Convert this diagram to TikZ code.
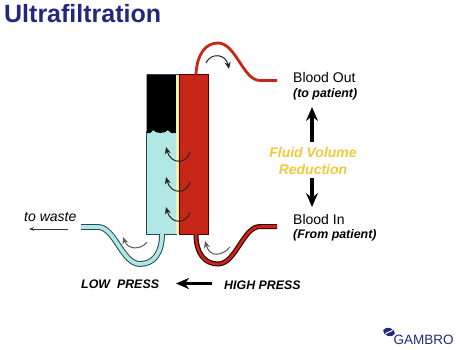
\documentclass[tikz,border=0pt]{standalone}
\usepackage{fontspec}
\setmainfont{Liberation Sans}
\usetikzlibrary{arrows.meta}
\definecolor{navy}{RGB}{35,40,125}
\definecolor{bloodred}{RGB}{200,38,22}
\definecolor{fluidcyan}{RGB}{178,232,228}
\definecolor{tubedark}{RGB}{40,70,90}
\definecolor{gold}{RGB}{240,200,60}
\definecolor{pale}{RGB}{250,240,170}
\tikzset{
  title/.style={font=\fontsize{25}{28}\selectfont\bfseries,text=navy,inner sep=0pt,anchor=west},
  plainlabel/.style={font=\fontsize{14}{16}\selectfont,inner sep=0pt,anchor=west},
  noteslabel/.style={font=\fontsize{12.4}{14}\selectfont\bfseries\itshape,inner sep=0pt,anchor=west},
  fluidlabel/.style={font=\fontsize{14}{16}\selectfont\bfseries\itshape,text=gold,inner sep=0pt},
  presslabel/.style={font=\fontsize{12.4}{14}\selectfont\bfseries\itshape,inner sep=0pt,anchor=west},
  flowarrow/.style={draw=black!85,line width=1pt,-{Stealth[length=7pt,width=6pt]}},
  bigarrow/.style={draw=black,line width=3.3pt,-{Stealth[length=14pt,width=12pt,inset=5pt]}},
  thinarrow/.style={draw=black!80,line width=0.6pt,-{Stealth[length=5pt,width=3.5pt]}},
}
\begin{document}
\begin{tikzpicture}[x=1pt,y=-1pt]
\useasboundingbox (0,0) rectangle (460,349);

\node[title] (heading) at (4,14) {Ultrafiltration};

% filter body: fluid side, membrane, blood side
\fill[fluidcyan] (146.5,128) rectangle (176,234);
\fill[black] (146.5,74) -- (176,74) -- (176,133) .. controls (173,134) and (170,133) .. (168,130)
  .. controls (165,134) and (156,134) .. (153,130) .. controls (151,133) and (149,134) .. (146.5,133) -- cycle;
\draw[tubedark,line width=0.7pt] (146.5,131) -- (146.5,234) -- (176,234) -- (176,131);
\fill[pale] (176,74) rectangle (179,234);
\fill[bloodred] (179,74) rectangle (208,234);
\draw[black!70!red,line width=0.7pt] (179,74) rectangle (208,234);
\draw[tubedark,line width=0.6pt] (146.5,74) -- (179,74);

% tube end points
\coordinate (outTop) at (196,74);
\coordinate (outEnd) at (277,80.5);
\coordinate (inTop) at (196,234);
\coordinate (inEnd) at (277,226.5);
\coordinate (wasteTop) at (162,234);
\coordinate (wasteEnd) at (81,227);

% blood return line
\draw[bloodred,line width=2.8pt] (outTop) .. controls (197,55) and (205,43) .. (218,43)
  .. controls (236,43) and (243,80.5) .. (260,80.5) -- (outEnd);

% blood supply line: dark casing with red core
\draw[black!75!red!90!black,line width=5pt] (inTop) .. controls (196,254) and (205,264) .. (218,264)
  .. controls (236,264) and (243,226.5) .. (260,226.5) -- (inEnd);
\draw[bloodred,line width=2.6pt] (inTop) .. controls (196,254) and (205,264) .. (218,264)
  .. controls (236,264) and (243,226.5) .. (260,226.5) -- (inEnd);

% drain line to waste
\draw[tubedark,line width=5.8pt] (wasteTop) .. controls (162,254) and (153,264) .. (140,264)
  .. controls (122,264) and (115,227) .. (98,227) -- (wasteEnd);
\draw[fluidcyan,line width=3.8pt] (wasteTop) .. controls (162,254) and (153,264) .. (140,264)
  .. controls (122,264) and (115,227) .. (98,227) -- (wasteEnd);

% flow direction arrows
\coordinate (a1s) at (206,63);
\coordinate (a1e) at (229,69);
\draw[flowarrow] (a1s) .. controls (211,52) and (226,54) .. (a1e);
\coordinate (a2s) at (230,247);
\coordinate (a2e) at (205,241);
\draw[flowarrow,black!65] (a2s) .. controls (222,256) and (210,258) .. (a2e);
\coordinate (a3s) at (147,242);
\coordinate (a3e) at (123,237);
\draw[flowarrow,black!65] (a3s) .. controls (141,250) and (128,250) .. (a3e);
\foreach \y [count=\i] in {147,177,207}{
  \coordinate (m\i s) at (190,\y+5);
  \coordinate (m\i e) at (166,\y);
  \draw[flowarrow] (m\i s) .. controls (187,\y+17) and (171,\y+18) .. (m\i e);
}

% labels on the right
\node[plainlabel] (bloodout) at (293,77) {Blood Out};
\node[noteslabel] (topatient) at (293,94) {(to patient)};
\node[fluidlabel] (fluid) at (313,152) {Fluid Volume};
\node[fluidlabel] (reduction) at (313,169) {Reduction};
\node[plainlabel] (bloodin) at (293,219) {Blood In};
\node[noteslabel] (frompatient) at (293,235) {(From patient)};
\coordinate (upstart) at (312,142);
\coordinate (uptip) at (312,107);
\coordinate (downstart) at (312,178);
\coordinate (downtip) at (312,207);
\draw[bigarrow] (upstart) -- (uptip);
\draw[bigarrow] (downstart) -- (downtip);

% waste label
\node[font=\fontsize{14}{16}\selectfont\itshape,inner sep=0pt,anchor=west] (towaste) at (24,217) {to waste};
\coordinate (wa) at (68,229);
\coordinate (wb) at (29,229);
\draw[thinarrow] (wa) -- (wb);

% pressure gradient
\node[presslabel] (low) at (81,284) {LOW\ \ PRESS};
\node[presslabel] (high) at (224,285) {HIGH PRESS};
\coordinate (pstart) at (212,283.5);
\coordinate (ptip) at (176,283.5);
\draw[draw=black,line width=2.8pt,-{Stealth[length=13pt,width=11pt,inset=4pt]}] (pstart) -- (ptip);

% company mark: two interlocking swooshes
\fill[navy,rotate around={-15:(389,332)}] (389,332) ellipse (6 and 4);
\draw[white,line width=1pt] (384,335.5) .. controls (387,331) and (391,333) .. (394,328.5);
\node[font=\fontsize{13.5}{15}\selectfont,text=navy,inner sep=0pt,anchor=west] (brand) at (393.5,339.5) {GAMBRO};
\end{tikzpicture}
\end{document}
